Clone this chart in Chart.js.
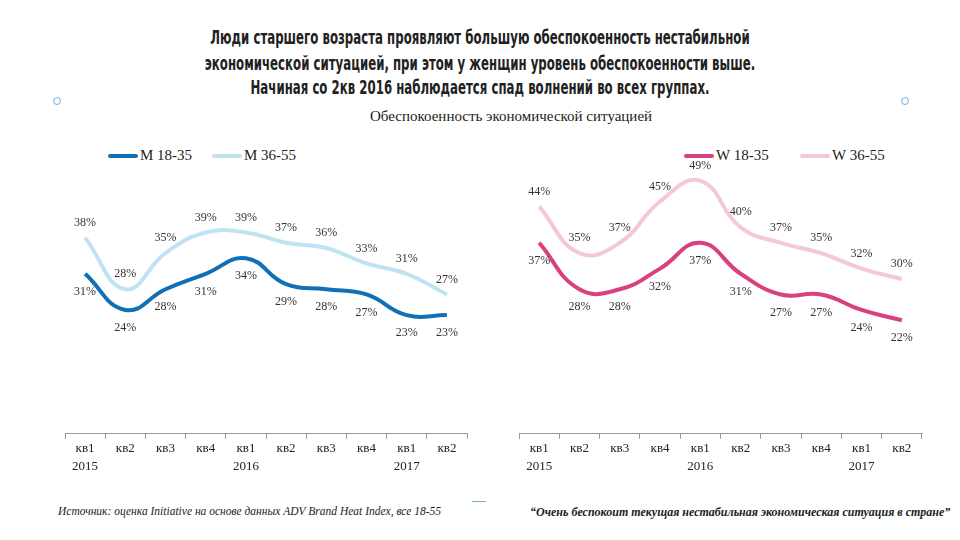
<!DOCTYPE html>
<html>
<head>
<meta charset="utf-8">
<script src="https://cdn.jsdelivr.net/npm/chart.js@4"></script>
<style>
  body { margin: 0; width: 960px; height: 540px; background: #fff; position: relative; overflow: hidden; font-family: "Liberation Serif", serif; }
  .title { position: absolute; left: 0; top: 25px; width: 960px; text-align: center; font-family: "Liberation Sans Narrow", "DejaVu Sans Condensed", sans-serif; font-weight: bold; font-size: 17px; line-height: 22.5px; color: #222; transform: scale(0.77, 1.12); transform-origin: 480px 0; white-space: nowrap; }
  .subtitle { position: absolute; left: 370px; top: 108px; font-size: 15px; color: #222; }
  .dot { position: absolute; width: 6px; height: 6px; border: 1px solid #6aaedb; border-radius: 50%; }
  .dash { position: absolute; left: 472px; top: 501px; width: 14px; height: 1px; background: #6aaedb; }
  .box { position: absolute; }
  .legend { position: absolute; font-size: 15px; color: #222; display: flex; align-items: center; }
  .legend i { display: inline-block; width: 30px; height: 4px; border-radius: 2px; margin-right: 2px; }
  .src { position: absolute; left: 58px; top: 505px; font-style: italic; font-size: 11.5px; color: #222; }
  .quote { position: absolute; left: 530px; top: 505px; font-style: italic; font-weight: bold; font-size: 12px; color: #222; }
</style>
</head>
<body>
<div class="title">Люди старшего возраста проявляют большую обеспокоенность нестабильной<br>экономической ситуацией, при этом у женщин уровень обеспокоенности выше.<br>Начиная со 2кв 2016  наблюдается спад волнений во всех группах.</div>
<div class="subtitle">Обеспокоенность экономической ситуацией</div>
<div class="dot" style="left:53px;top:97px"></div>
<div class="dot" style="left:901px;top:97px"></div>
<div class="dash"></div>

<div class="legend" style="left:108px;top:147px"><i style="background:#1170b5"></i>M 18-35</div>
<div class="legend" style="left:212px;top:147px"><i style="background:#bfe3f3"></i>M 36-55</div>
<div class="legend" style="left:684px;top:147px"><i style="background:#d9417e"></i>W 18-35</div>
<div class="legend" style="left:800px;top:147px"><i style="background:#f5c8d5"></i>W 36-55</div>

<div class="box" style="left:0;top:110px;width:480px;height:380px"><canvas id="menChart"></canvas></div>
<div class="box" style="left:480px;top:110px;width:480px;height:380px"><canvas id="womenChart"></canvas></div>

<div class="src">Источник: оценка Initiative на основе данных ADV Brand Heat Index, все 18-55</div>
<div class="quote">“Очень беспокоит текущая нестабильная экономическая ситуация в стране”</div>

<script>
const quarters = [["кв1", "2015"], "кв2", "кв3", "кв4", ["кв1", "2016"], "кв2", "кв3", "кв4", ["кв1", "2017"], "кв2"];

const men1835 = [31, 24, 28, 31, 34, 29, 28, 27, 23, 23];
const men3655 = [38, 28, 35, 39, 39, 37, 36, 33, 31, 27];
const women1835 = [37, 28, 28, 32, 37, 31, 27, 27, 24, 22];
const women3655 = [44, 35, 37, 45, 49, 40, 37, 35, 32, 30];

// draws value labels above / below each point
const valueLabels = {
  id: "valueLabels",
  afterDatasetsDraw(chart) {
    const ctx = chart.ctx;
    ctx.save();
    ctx.font = "12px 'Liberation Serif', serif";
    ctx.fillStyle = "#333";
    ctx.textAlign = "center";
    ctx.textBaseline = "middle";
    chart.data.datasets.forEach((ds, i) => {
      const meta = chart.getDatasetMeta(i);
      const off = ds.labelPos === "above" ? -15 : 18;
      meta.data.forEach((pt, j) => {
        ctx.fillText(ds.data[j] + "%", pt.x, pt.y + off);
      });
    });
    ctx.restore();
  }
};

function makeChart(id, sets) {
  new Chart(document.getElementById(id), {
    type: "line",
    data: {
      labels: quarters,
      datasets: sets.map(s => ({
        label: s.label,
        data: s.data,
        borderColor: s.color,
        borderWidth: 4,
        pointRadius: 0,
        tension: 0.45,
        labelPos: s.pos,
        fill: false,
      })),
    },
    options: {
      responsive: true,
      maintainAspectRatio: false,
      animation: false,
      layout: { padding: { left: id === "menChart" ? 65 : 39, right: id === "menChart" ? 13 : 38, top: 14, bottom: 14 } },
      plugins: { legend: { display: false }, tooltip: { enabled: false } },
      scales: {
        x: {
          offset: true,
          grid: { offset: true, drawOnChartArea: false, color: "#999", tickLength: 5 },
          border: { color: "#999" },
          ticks: { color: "#222", font: { family: "'Liberation Serif', serif", size: 13, lineHeight: 1.35 }, padding: 1, maxRotation: 0, autoSkip: false },
        },
        y: { display: false, min: 0, max: 60 },
      },
    },
    plugins: [valueLabels],
  });
}

makeChart("menChart", [
  { label: "M 18-35", data: men1835, color: "#1170b5", pos: "below" },
  { label: "M 36-55", data: men3655, color: "#bfe3f3", pos: "above" },
]);
makeChart("womenChart", [
  { label: "W 18-35", data: women1835, color: "#d9417e", pos: "below" },
  { label: "W 36-55", data: women3655, color: "#f5c8d5", pos: "above" },
]);
</script>
</body>
</html>
